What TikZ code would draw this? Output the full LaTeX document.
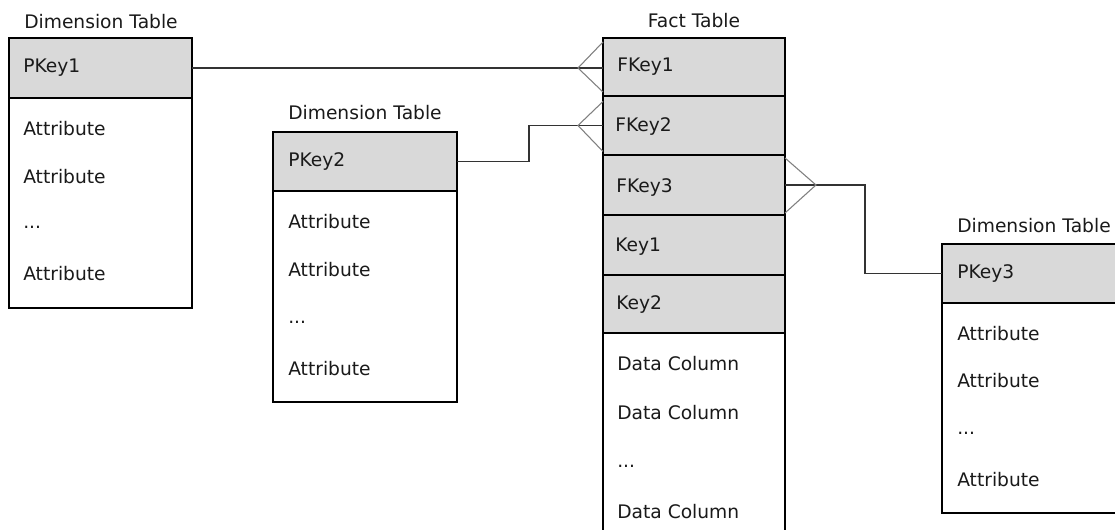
\documentclass[tikz,border=0pt]{standalone}
\usepackage{fontspec}
\setmainfont{DejaVu Sans}
\usetikzlibrary{calc}
\definecolor{keygray}{HTML}{D9D9D9}
\definecolor{linegray}{HTML}{333333}
\definecolor{crowgray}{HTML}{808080}
\definecolor{txt}{HTML}{1A1A1A}
\begin{document}
\begin{tikzpicture}[x=0.75pt,y=-0.75pt,
  font=\fontsize{14pt}{16pt}\selectfont,
  wh/.style 2 args={minimum width=#1*0.75pt, minimum height=#2*0.75pt},
  cell/.style={draw=black, line width=1.8pt, anchor=north west, inner sep=0pt, outer sep=0pt},
  keycell/.style={cell, fill=keygray},
  bodycell/.style={cell, fill=white},
  lbl/.style={anchor=west, inner sep=0pt, text=txt},
  ttl/.style={anchor=west, inner sep=0pt, text=txt},
  link/.style={draw=linegray, line width=0.8pt},
  crow/.style={draw=crowgray, line width=0.8pt}]
\useasboundingbox (0,0) rectangle (1115,530);
\clip (0,0) rectangle (1115,530);
\fill[white] (0,0) rectangle (1115,530);

% ---- left dimension table
\node[ttl] (t1) at (24,22) {Dimension Table};
\node[keycell, wh={183}{60}] (pk1) at (9,38) {};
\node[bodycell, wh={183}{210}] (b1) at (9,98) {};
\node[lbl] (pk1t) at (23,68) {PKey1};
\node[lbl] (a11) at (23,129) {Attribute};
\node[lbl] (a12) at (23,177) {Attribute};
\node[lbl] (a13) at (23,227) {...};
\node[lbl] (a14) at (23,274) {Attribute};

% ---- middle dimension table
\node[ttl] (t2) at (288,113) {Dimension Table};
\node[keycell, wh={184}{59}] (pk2) at (273,132) {};
\node[bodycell, wh={184}{211}] (b2) at (273,191) {};
\node[lbl] (pk2t) at (288,162) {PKey2};
\node[lbl] (a21) at (288,222) {Attribute};
\node[lbl] (a22) at (288,270) {Attribute};
\node[lbl] (a23) at (288,322) {...};
\node[lbl] (a24) at (288,369) {Attribute};

% ---- fact table
\node[ttl, anchor=center] (tf) at (694,21) {Fact Table};
\node[keycell, wh={182}{58}] (fk1) at (603,38) {};
\node[keycell, wh={182}{59}] (fk2) at (603,96) {};
\node[keycell, wh={182}{60}] (fk3) at (603,155) {};
\node[keycell, wh={182}{60}] (k1) at (603,215) {};
\node[keycell, wh={182}{58}] (k2) at (603,275) {};
\node[bodycell, wh={182}{230}] (fb) at (603,333) {};
\node[lbl] (fk1t) at (617,67) {FKey1};
\node[lbl] (fk2t) at (615,127) {FKey2};
\node[lbl] (fk3t) at (616,188) {FKey3};
\node[lbl] (k1t) at (615,247) {Key1};
\node[lbl] (k2t) at (616,305) {Key2};
\node[lbl] (d1) at (617,364) {Data Column};
\node[lbl] (d2) at (617,413) {Data Column};
\node[lbl] (d3) at (617,466) {...};
\node[lbl] (d4) at (617,512) {Data Column};

% ---- right dimension table
\node[ttl] (t3) at (957,226) {Dimension Table};
\node[keycell, wh={190}{59}] (pk3) at (942,244) {};
\node[bodycell, wh={190}{210}] (b3) at (942,303) {};
\node[lbl] (pk3t) at (957,274) {PKey3};
\node[lbl] (a31) at (957,334) {Attribute};
\node[lbl] (a32) at (957,381) {Attribute};
\node[lbl] (a33) at (957,433) {...};
\node[lbl] (a34) at (957,480) {Attribute};

% ---- connectors
\coordinate (c1) at (pk1.east -| fk1.west);
\draw[link] (pk1.east) -- (c1);
\draw[crow] ($(c1)+(0,-26)$) -- ($(c1)+(-25,0)$) -- ($(c1)+(0,24)$);

\draw[link] (pk2.east) -- ++(72,0) |- (fk2.west);
\draw[crow] ($(fk2.west)+(0,-24)$) -- ($(fk2.west)+(-25,0)$) -- ($(fk2.west)+(0,26)$);

\draw[link] (fk3.east) -- ++(80,0) |- (pk3.west);
\draw[crow] ($(fk3.east)+(0,-27)$) -- ($(fk3.east)+(31,0)$) -- ($(fk3.east)+(0,28)$);
\end{tikzpicture}
\end{document}
